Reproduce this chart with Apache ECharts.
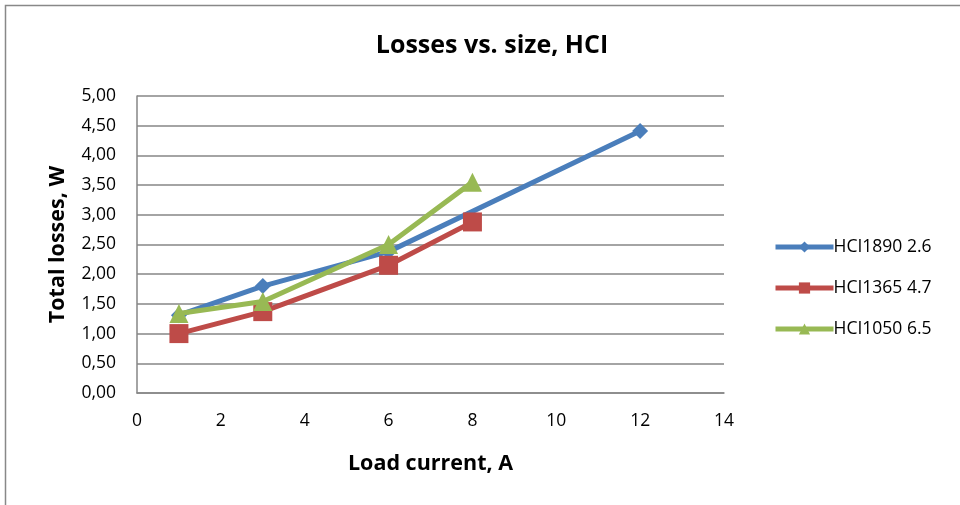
<!DOCTYPE html>
<html>
<head>
<meta charset="utf-8">
<script src="https://cdn.jsdelivr.net/npm/echarts@6/dist/echarts.min.js"></script>
<style>html,body{margin:0;padding:0;background:#fff}#c{width:960px;height:505px}</style>
</head>
<body>
<div id="c"></div>
<script>
const seriesNames = ['HCI1890 2.6', 'HCI1365 4.7', 'HCI1050 6.5'];
const hci1890 = [[1, 1.31], [3, 1.80], [6, 2.38], [12, 4.41]];
const hci1365 = [[1, 1.00], [3, 1.37], [6, 2.15], [8, 2.88]];
const hci1050 = [[1, 1.34], [3, 1.54], [6, 2.50], [8, 3.55]];
const titleText = 'Losses vs. size, HCI';
const xName = 'Load current, A';
const yName = 'Total losses, W';

const FONT = 'Open Sans';
const chart = echarts.init(document.getElementById('c'), null, {renderer: 'canvas'});
const gray = '#868686';
chart.setOption({
  animation: false,
  textStyle: {fontFamily: FONT},
  graphic: [{
    type: 'rect', left: 3, top: 3, silent: true,
    shape: {x: 0, y: 0, width: 1000, height: 1000},
    style: {fill: 'none', stroke: '#888', lineWidth: 1.5}
  }],
  title: {
    text: titleText, left: 487, top: 28, textAlign: 'center',
    textStyle: {fontFamily: FONT, fontWeight: 'bold', fontSize: 25, color: '#000'}
  },
  legend: {
    orient: 'vertical', left: 768, top: 233,
    itemWidth: 58, itemHeight: 14, itemGap: 23,
    lineStyle: {width: 5},
    textStyle: {fontFamily: FONT, fontSize: 17.5, color: '#000', padding: [0, 0, 0, -5]},
    data: seriesNames
  },
  grid: {left: 137, right: 236, top: 96, bottom: 112, containLabel: false},
  xAxis: {
    type: 'value', min: 0, max: 14, interval: 2,
    name: xName, nameLocation: 'middle', nameGap: 60,
    nameTextStyle: {fontFamily: FONT, fontWeight: 'bold', fontSize: 21.5, color: '#000'},
    axisLine: {show: true, lineStyle: {color: gray, width: 1.5}},
    axisTick: {show: false},
    splitLine: {show: false},
    axisLabel: {color: '#000', fontSize: 17.5, margin: 19, fontFamily: FONT}
  },
  yAxis: {
    type: 'value', min: 0, max: 5, interval: 0.5,
    name: yName, nameLocation: 'middle', nameGap: 68, nameRotate: 90,
    nameTextStyle: {fontFamily: FONT, fontWeight: 'bold', fontSize: 21.5, color: '#000'},
    axisLine: {show: true, lineStyle: {color: gray, width: 1.5}},
    axisTick: {show: false},
    splitLine: {show: true, lineStyle: {color: gray, width: 1.5}},
    axisLabel: {
      color: '#000', fontSize: 17.5, margin: 21, fontFamily: FONT,
      formatter: v => v.toFixed(2).replace('.', ',')
    }
  },
  series: [
    {name: seriesNames[0], type: 'line', data: hci1890, symbol: 'diamond', symbolSize: 16,
     lineStyle: {width: 5, color: '#4A7EBB'}, itemStyle: {color: '#4A7EBB'}, z: 2},
    {name: seriesNames[1], type: 'line', data: hci1365, symbol: 'rect', symbolSize: 19,
     lineStyle: {width: 5, color: '#BE4B48'}, itemStyle: {color: '#BE4B48'}, z: 3},
    {name: seriesNames[2], type: 'line', data: hci1050, symbol: 'triangle', symbolSize: 19,
     lineStyle: {width: 5, color: '#98B954'}, itemStyle: {color: '#98B954'}, z: 4}
  ]
});
</script>
</body>
</html>
